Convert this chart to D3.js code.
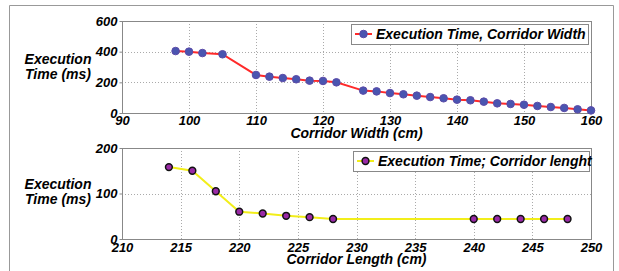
<!DOCTYPE html>
<html><head><meta charset="utf-8">
<script src="https://cdn.jsdelivr.net/npm/d3@7"></script>
<style>
html,body{margin:0;padding:0;background:#fff;}
svg text{font-family:"Liberation Sans",Arial,sans-serif;font-weight:bold;font-style:italic;fill:#000;}
</style></head>
<body>
<svg id="c" width="619" height="271"></svg>
<script>
// Top chart: execution time vs corridor width
const widthX = [98,100,102,105,110,112,114,116,118,120,122,126,128,130,132,134,136,138,140,142,144,146,148,150,152,154,156,158,160];
const widthTime = [404,400,391,383,248,237,228,220,211,209,200,146,141,130,122,113,104,96,87,83,74,63,59,54,46,39,33,24,17];
const widthXTicks = [90,100,110,120,130,140,150,160];
const widthYTicks = [0,200,400,600];

// Bottom chart: execution time vs corridor length
const lengthX = [214,216,218,220,222,224,226,228,240,242,244,246,248];
const lengthTime = [158,150,105,60,56,51,48,44,44,44,44,44,44];
const lengthXTicks = [210,215,220,225,230,235,240,245,250];
const lengthYTicks = [0,100,200];

const labels = {
  yTitle: ["Execution","Time (ms)"],
  topX: "Corridor Width (cm)",
  botX: "Corridor Length (cm)",
  topLegend: "Execution Time, Corridor Width",
  botLegend: "Execution Time; Corridor lenght"
};

const svg = d3.select("#c");
// outer frame
svg.append("path").attr("d","M9.5,275V5.5H613.5V275").attr("fill","none").attr("stroke","#999").attr("stroke-width",1);

function panel(cfg){
  const g = svg.append("g");
  const x = d3.scaleLinear().domain(cfg.xDomain).range([cfg.left, cfg.right]);
  const y = d3.scaleLinear().domain(cfg.yDomain).range([cfg.bottom, cfg.top]);
  // grid
  g.selectAll(".gx").data(cfg.xTicks.slice(1,-1)).enter().append("line")
    .attr("x1",d=>Math.round(x(d))+0.5).attr("x2",d=>Math.round(x(d))+0.5)
    .attr("y1",cfg.top).attr("y2",cfg.bottom)
    .attr("stroke","#aaa").attr("stroke-dasharray","1,2");
  g.selectAll(".gy").data(cfg.yTicks.slice(1)).enter().append("line")
    .attr("y1",d=>Math.round(y(d))+0.5).attr("y2",d=>Math.round(y(d))+0.5)
    .attr("x1",cfg.left).attr("x2",cfg.right)
    .attr("stroke","#aaa").attr("stroke-dasharray","1,2");
  // axes
  const ax = g.append("g").attr("transform",`translate(0,${cfg.bottom+0.5})`)
    .call(d3.axisBottom(x).tickValues(cfg.xTicks).tickSize(0).tickPadding(cfg.xPad).tickFormat(d3.format("d")));
  ax.select(".domain").remove();
  ax.selectAll("text").attr("font-size",13);
  const ay = g.append("g").attr("transform",`translate(${cfg.left+0.5},0)`)
    .call(d3.axisLeft(y).tickValues(cfg.yTicks).tickSize(3).tickPadding(2).tickFormat(d3.format("d")));
  ay.select(".domain").remove();
  ay.selectAll("line").attr("stroke","#888");
  ay.selectAll("text").attr("font-size",13);
  // box
  g.append("rect").attr("x",cfg.left+0.5).attr("y",cfg.top+0.5)
    .attr("width",cfg.right-cfg.left).attr("height",cfg.bottom-cfg.top)
    .attr("fill","none").attr("stroke","#888");
  // line
  const pts = cfg.xs.map((d,i)=>[d,cfg.ys[i]]);
  g.append("path").datum(pts)
    .attr("d",d3.line().x(d=>x(d[0])).y(d=>y(d[1])))
    .attr("fill","none").attr("stroke",cfg.lineColor).attr("stroke-width",2);
  g.selectAll(".pt").data(pts).enter().append("circle")
    .attr("cx",d=>x(d[0])).attr("cy",d=>y(d[1])).attr("r",cfg.r)
    .attr("fill",cfg.mFill).attr("stroke",cfg.mStroke).attr("stroke-width",cfg.mSw);
  // y title
  const yt = g.append("text").attr("font-size",14).attr("text-anchor","middle");
  yt.append("tspan").attr("x",cfg.yTitleX).attr("y",cfg.yTitleY).text(labels.yTitle[0]);
  yt.append("tspan").attr("x",cfg.yTitleX).attr("y",cfg.yTitleY+15).text(labels.yTitle[1]);
  // x title
  g.append("text").attr("font-size",14).attr("text-anchor","middle")
    .attr("x",(cfg.left+cfg.right)/2).attr("y",cfg.xTitleY).text(cfg.xTitle);
  // legend
  const lg = cfg.legend;
  g.append("rect").attr("x",lg.x+0.5).attr("y",lg.y+0.5).attr("width",lg.w).attr("height",lg.h)
    .attr("fill","#fff").attr("stroke","#888");
  const ly = lg.y + lg.h/2;
  g.append("line").attr("x1",lg.x+4).attr("x2",lg.x+21).attr("y1",ly).attr("y2",ly)
    .attr("stroke",cfg.lineColor).attr("stroke-width",2);
  g.append("circle").attr("cx",lg.x+12.5).attr("cy",ly).attr("r",cfg.r)
    .attr("fill",cfg.mFill).attr("stroke",cfg.mStroke).attr("stroke-width",cfg.mSw);
  g.append("text").attr("font-size",14).attr("x",lg.x+25).attr("y",ly+5).text(lg.text);
}

panel({
  xDomain:[90,160], yDomain:[0,600], left:122, right:591, top:21, bottom:113, xPad:2,
  xTicks:widthXTicks, yTicks:widthYTicks, xs:widthX, ys:widthTime,
  lineColor:"#ff2a2a", mFill:"#4a55b0", mStroke:"#5b4aa8", mSw:1, r:3.8,
  yTitleX:58, yTitleY:64, xTitle:labels.topX, xTitleY:138,
  legend:{x:351, y:24, w:237, h:20, text:labels.topLegend}
});
panel({
  xDomain:[210,250], yDomain:[0,200], left:122, right:591, top:148, bottom:239, xPad:3,
  xTicks:lengthXTicks, yTicks:lengthYTicks, xs:lengthX, ys:lengthTime,
  lineColor:"#f2ee1a", mFill:"#9a2aa6", mStroke:"#111", mSw:1.5, r:3.4,
  yTitleX:58, yTitleY:189, xTitle:labels.botX, xTitleY:264,
  legend:{x:353, y:151, w:236, h:20, text:labels.botLegend}
});
</script>
</body></html>
